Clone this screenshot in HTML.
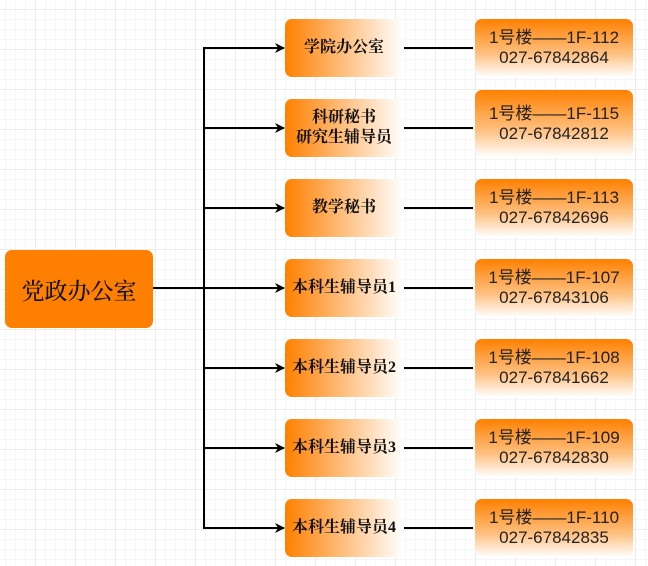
<!DOCTYPE html>
<html><head><meta charset="utf-8"><style>
html,body{margin:0;padding:0}
body{width:648px;height:566px;position:relative;overflow:hidden;background-color:#fff;
background-image:linear-gradient(#ececec 1px,transparent 1px),linear-gradient(90deg,#ececec 1px,transparent 1px),linear-gradient(#f6f6f6 1px,transparent 1px),linear-gradient(90deg,#f6f6f6 1px,transparent 1px);
background-size:40px 40px,40px 40px,10px 10px,10px 10px;background-position:-5px 9px,-5px 9px,-5px 9px,-5px 9px;
font-family:"Liberation Sans","Noto Sans CJK SC",sans-serif}
.b{position:absolute;display:flex;align-items:center;justify-content:center;text-align:center;border-radius:7px;color:#111}
.m{left:285px;width:118px;height:58px;background:linear-gradient(90deg,#ff8000,#fff);font-family:"Liberation Serif","Noto Serif CJK SC",serif;font-weight:bold;font-size:16px;line-height:20px}
.r{left:475px;width:158px;height:58px;background:linear-gradient(180deg,#ff8000 0%,#ffc080 60%,#fff 100%);font-size:17px;line-height:20px;color:#222;font-weight:normal}
</style></head><body>
<svg width="648" height="566" style="position:absolute;left:0;top:0">
<defs><marker id="a" markerWidth="10" markerHeight="10" refX="9" refY="5" orient="auto" markerUnits="userSpaceOnUse"><path d="M0,0 L10,5 L0,10 L3,5z" fill="#000"/></marker></defs>
<g stroke="#000" stroke-width="2" fill="none">
<line x1="153" y1="288" x2="204" y2="288"/>
<line x1="204" y1="47" x2="204" y2="529"/>
<line x1="204" y1="48" x2="284" y2="48" marker-end="url(#a)"/>
<line x1="204" y1="128" x2="284" y2="128" marker-end="url(#a)"/>
<line x1="204" y1="208" x2="284" y2="208" marker-end="url(#a)"/>
<line x1="204" y1="288" x2="284" y2="288" marker-end="url(#a)"/>
<line x1="204" y1="368" x2="284" y2="368" marker-end="url(#a)"/>
<line x1="204" y1="448" x2="284" y2="448" marker-end="url(#a)"/>
<line x1="204" y1="528" x2="284" y2="528" marker-end="url(#a)"/>
<line x1="404" y1="48" x2="473" y2="48"/>
<line x1="404" y1="128" x2="473" y2="128"/>
<line x1="404" y1="208" x2="473" y2="208"/>
<line x1="404" y1="288" x2="473" y2="288"/>
<line x1="404" y1="368" x2="473" y2="368"/>
<line x1="404" y1="448" x2="473" y2="448"/>
<line x1="404" y1="528" x2="473" y2="528"/>
</g></svg>
<div class="b" style="left:5px;top:250px;width:148px;height:78px;background:#ff8000;font-family:'Noto Serif CJK SC',serif;font-weight:500;font-size:23px">党政办公室</div>
<div class="b m" style="top:19px">学院办公室</div>
<div class="b m" style="top:99px">科研秘书<br>研究生辅导员</div>
<div class="b m" style="top:179px">教学秘书</div>
<div class="b m" style="top:259px">本科生辅导员1</div>
<div class="b m" style="top:339px">本科生辅导员2</div>
<div class="b m" style="top:419px">本科生辅导员3</div>
<div class="b m" style="top:499px">本科生辅导员4</div>
<div class="b r" style="top:19px">1号楼——1F-112<br>027-67842864</div>
<div class="b r" style="top:90px;height:67px">1号楼——1F-115<br>027-67842812</div>
<div class="b r" style="top:179px">1号楼——1F-113<br>027-67842696</div>
<div class="b r" style="top:259px">1号楼——1F-107<br>027-67843106</div>
<div class="b r" style="top:339px">1号楼——1F-108<br>027-67841662</div>
<div class="b r" style="top:419px">1号楼——1F-109<br>027-67842830</div>
<div class="b r" style="top:499px">1号楼——1F-110<br>027-67842835</div>
</body></html>
